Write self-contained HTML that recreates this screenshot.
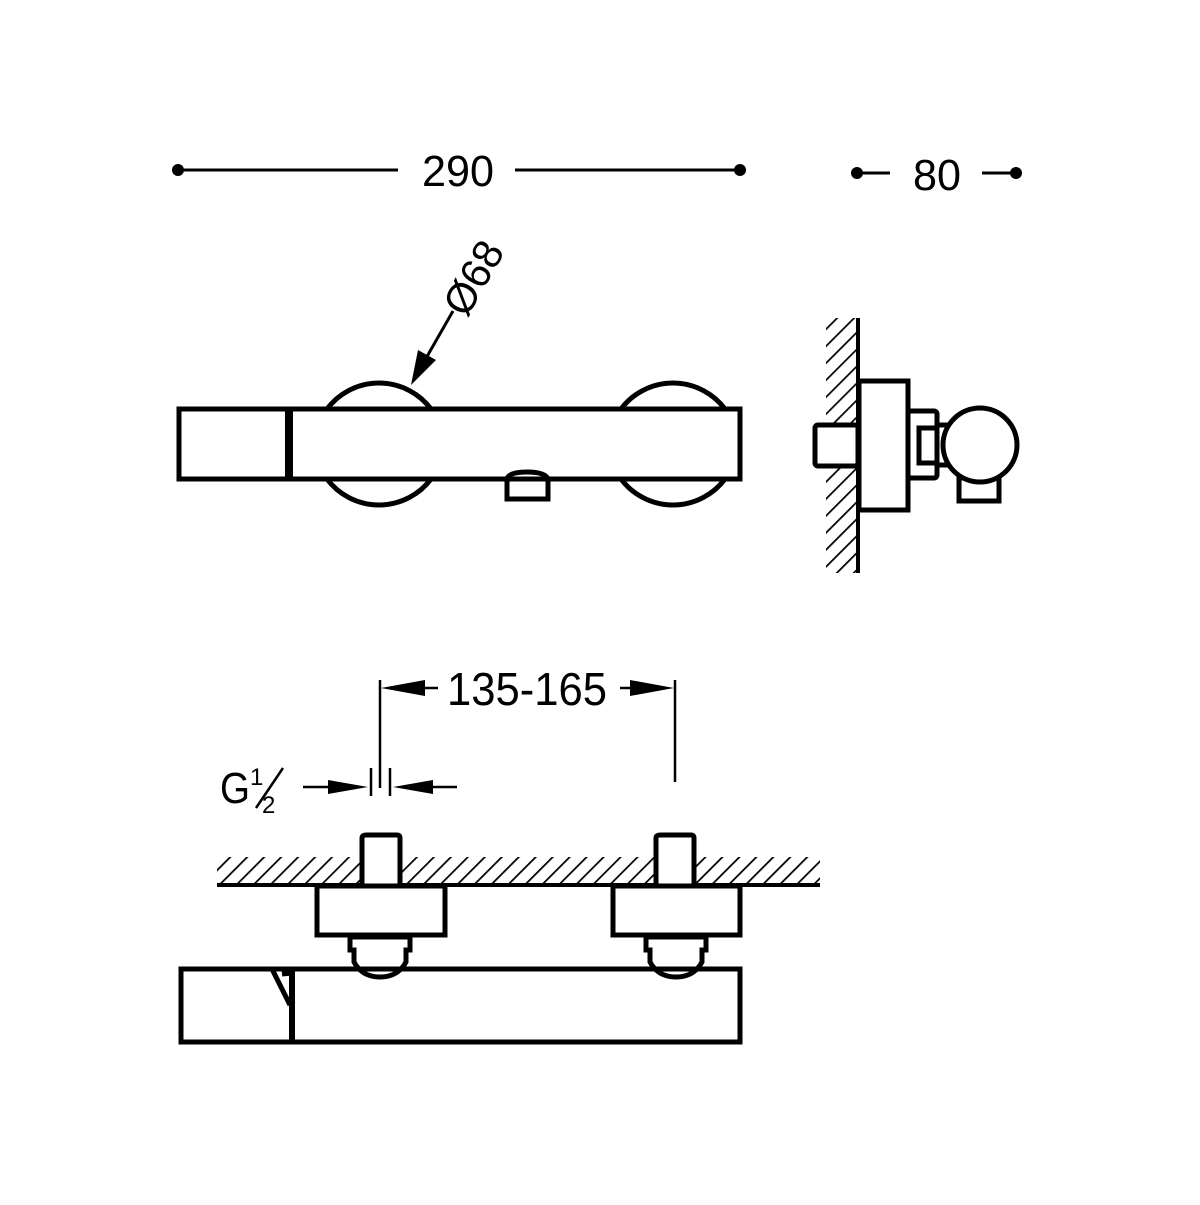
<!DOCTYPE html>
<html><head><style>html,body{margin:0;padding:0;background:#fff}</style></head><body>
<svg width="1200" height="1200" viewBox="0 0 1200 1200" xmlns="http://www.w3.org/2000/svg">
<defs>
<pattern id="h" patternUnits="userSpaceOnUse" width="12" height="12" patternTransform="rotate(45)">
<line x1="0" y1="0" x2="0" y2="12" stroke="#000" stroke-width="3.5"/>
</pattern>
</defs>
<g font-family="Liberation Sans, sans-serif" fill="#000">
<line x1="178" y1="170" x2="398" y2="170" stroke="#000" stroke-width="3"/>
<line x1="515" y1="170" x2="740" y2="170" stroke="#000" stroke-width="3"/>
<circle cx="178" cy="170" r="6"/><circle cx="740" cy="170" r="6"/>
<text x="458" y="186" font-size="44" text-anchor="middle" textLength="72" lengthAdjust="spacingAndGlyphs">290</text>
<line x1="857" y1="173" x2="890" y2="173" stroke="#000" stroke-width="3"/>
<line x1="982" y1="173" x2="1016" y2="173" stroke="#000" stroke-width="3"/>
<circle cx="857" cy="173" r="6"/><circle cx="1016" cy="173" r="6"/>
<text x="937" y="190" font-size="44" text-anchor="middle" textLength="48" lengthAdjust="spacingAndGlyphs">80</text>
<line x1="453" y1="311" x2="425" y2="360" stroke="#000" stroke-width="3"/>
<polygon points="411,385 418,350 436,360"/>
<text x="0" y="0" font-size="42" text-anchor="middle" textLength="78" lengthAdjust="spacingAndGlyphs" transform="translate(486,285) rotate(-60)">Ø68</text>
</g>
<g fill="none" stroke="#000" stroke-width="5">
<path d="M327,409 A65,65 0 0 1 431,409"/>
<path d="M327,479 A65,65 0 0 0 431,479"/>
<path d="M621,409 A65,65 0 0 1 725,409"/>
<path d="M621,479 A65,65 0 0 0 725,479"/>
<rect x="179" y="409" width="561" height="70" fill="#fff"/>
<line x1="289" y1="409" x2="289" y2="479" stroke-width="8"/>
<path d="M507,479 V499 H548 V479 Q545,472 527,472 Q509,472 507,479Z"/>
</g>
<rect x="826" y="318" width="32" height="255" fill="url(#h)"/>
<g fill="none" stroke="#000" stroke-width="5">
<line x1="858" y1="318" x2="858" y2="573" stroke-width="4"/>
<rect x="815" y="425" width="43" height="41" rx="3" fill="#fff"/>
<rect x="859" y="381" width="49" height="129" fill="#fff"/>
<rect x="908" y="411" width="29" height="67" rx="3" fill="#fff"/>
<rect x="919" y="428" width="18" height="35"/>
<rect x="937" y="425" width="10" height="40"/>
<rect x="959" y="478" width="40" height="23" fill="#fff"/>
<circle cx="980" cy="445" r="37" fill="#fff"/>
</g>
<g stroke="#000" stroke-width="2.5" fill="none">
<line x1="380" y1="680" x2="380" y2="788"/>
<line x1="675" y1="680" x2="675" y2="782"/>
<line x1="420" y1="688" x2="438" y2="688"/>
<line x1="620" y1="688" x2="640" y2="688"/>
<line x1="303" y1="787" x2="340" y2="787"/>
<line x1="420" y1="787" x2="457" y2="787"/>
<line x1="371" y1="768" x2="371" y2="796"/>
<line x1="390" y1="768" x2="390" y2="796"/>
</g>
<g fill="#000" font-family="Liberation Sans, sans-serif">
<polygon points="381,688 425,680 425,696"/>
<polygon points="674,688 630,680 630,696"/>
<polygon points="368,787 328,780 328,794"/>
<polygon points="393,787 433,780 433,794"/>
<text x="527" y="705" font-size="46" text-anchor="middle" textLength="160" lengthAdjust="spacingAndGlyphs">135-165</text>
<text x="220" y="803" font-size="44" textLength="30" lengthAdjust="spacingAndGlyphs">G</text>
<text x="250" y="785" font-size="24">1</text>
<text x="262" y="813" font-size="24">2</text>
</g>
<line x1="256" y1="808" x2="283" y2="768" stroke="#000" stroke-width="2.5"/>
<rect x="217" y="857" width="603" height="28" fill="url(#h)"/>
<g fill="none" stroke="#000" stroke-width="5">
<line x1="217" y1="885" x2="820" y2="885" stroke-width="4"/>
<path d="M362,884 V838 Q362,835 366,835 H397 Q400,835 400,838 V884" fill="#fff"/>
<path d="M656,884 V838 Q656,835 660,835 H691 Q694,835 694,838 V884" fill="#fff"/>
<rect x="317" y="886" width="128" height="49" fill="#fff"/>
<rect x="613" y="886" width="127" height="49" fill="#fff"/>
<rect x="181" y="969" width="559" height="73" fill="#fff"/>
<path d="M350,937 V950 H354 V962 Q362,977 380,977 Q398,977 406,962 V950 H410 V937Z" fill="#fff"/>
<path d="M646,937 V950 H650 V962 Q658,977 676,977 Q694,977 702,962 V950 H706 V937Z" fill="#fff"/>
<line x1="354" y1="969" x2="406" y2="969"/>
<line x1="650" y1="969" x2="702" y2="969"/>
<line x1="292" y1="969" x2="292" y2="1042" stroke-width="6"/>
<path d="M272,969 L290,1005"/>
<path d="M282,974 L292,973"/>
</g>
</svg>
</body></html>
